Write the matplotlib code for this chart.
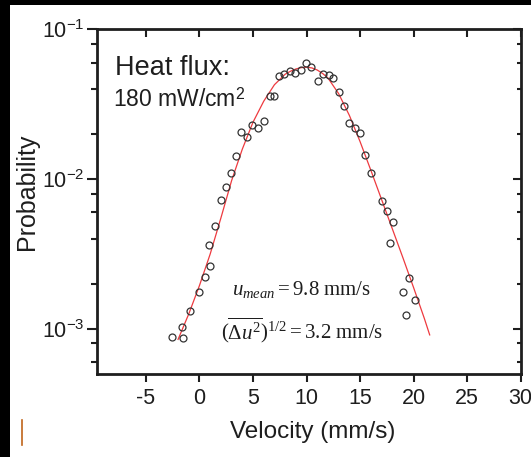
import matplotlib
matplotlib.use("Agg")
import matplotlib.pyplot as plt
from matplotlib.ticker import FixedLocator, FuncFormatter, LogLocator, NullFormatter
from matplotlib.patches import Rectangle
from matplotlib.lines import Line2D

plt.rcParams['font.family'] = ['Liberation Sans', 'DejaVu Sans']
plt.rcParams['axes.unicode_minus'] = False
plt.rcParams['mathtext.fontset'] = 'custom'
plt.rcParams['mathtext.rm'] = 'Liberation Serif'
plt.rcParams['mathtext.it'] = 'Liberation Serif:italic'
plt.rcParams['mathtext.sf'] = 'Liberation Sans'

# measured velocity distribution (open circles)
velocity = [-2.54, -1.57, -1.62, -0.87, -0.06, 0.47, 1.0, 0.93, 1.47, 2.03, 2.5,
            2.93, 3.40, 3.90, 4.46, 4.95, 5.46, 6.0, 6.61, 6.98, 7.38, 7.94,
            8.46, 8.94, 9.44, 9.94, 10.44, 11.03, 11.58, 12.05, 12.45, 13.03,
            13.46, 13.93, 14.49, 14.98, 15.49, 16.02, 17.03, 17.51, 18.04,
            17.76, 19.53, 19.01, 20.09, 19.32]
probability = [8.81e-4, 8.69e-4, 1.035e-3, 1.324e-3, 1.754e-3, 2.208e-3, 2.642e-3,
               3.606e-3, 4.887e-3, 7.28e-3, 8.89e-3, 1.096e-2, 1.416e-2, 2.065e-2,
               1.923e-2, 2.291e-2, 2.198e-2, 2.460e-2, 3.589e-2, 3.565e-2, 4.842e-2,
               5.035e-2, 5.236e-2, 5.093e-2, 5.358e-2, 5.929e-2, 5.585e-2, 4.519e-2,
               5.012e-2, 4.932e-2, 4.732e-2, 3.811e-2, 3.083e-2, 2.382e-2, 2.188e-2,
               2.046e-2, 1.452e-2, 1.096e-2, 7.11e-3, 6.08e-3, 5.21e-3, 3.74e-3,
               2.19e-3, 1.754e-3, 1.567e-3, 1.245e-3]

# fitted curve (red)
fit_v = [-2, -1, 0, 1, 2, 3, 4, 5, 6, 7, 8, 8.5, 9, 9.5, 10, 10.5, 11, 11.5, 12,
         13, 14, 15, 16, 17, 18, 19, 20, 21, 21.5]
fit_p = [8.51e-4, 1.259e-3, 1.950e-3, 3.162e-3, 5.50e-3, 9.77e-3, 1.585e-2,
         2.399e-2, 3.311e-2, 4.266e-2, 5.012e-2, 5.248e-2, 5.433e-2, 5.546e-2,
         5.585e-2, 5.521e-2, 5.346e-2, 5.070e-2, 4.732e-2, 3.715e-2, 2.661e-2,
         1.778e-2, 1.148e-2, 7.33e-3, 4.68e-3, 2.985e-3, 1.884e-3, 1.175e-3, 9.12e-4]

xticks = [-5, 0, 5, 10, 15, 20, 25, 30]

ink = '#1e1e1e'
fig = plt.figure(figsize=(5.31, 4.57), dpi=100)
ax = fig.add_axes([0.1821, 0.1816, 0.7985, 0.7543])

ax.plot(fit_v, fit_p, color='#ee3a3f', lw=0.9, zorder=2)
ax.plot(velocity, probability, 'o', ms=5, mfc='none', mec='#333333', mew=0.9, zorder=3)

ax.set_yscale('log')
ax.set_xlim(-9.6, 30)
ax.set_ylim(5e-4, 1e-1)
ax.xaxis.set_major_locator(FixedLocator(xticks))
ax.yaxis.set_major_locator(LogLocator(base=10))
ax.yaxis.set_minor_locator(LogLocator(base=10, subs=[2, 4, 6, 8]))
ax.yaxis.set_major_formatter(FuncFormatter(lambda v, p: r'$\mathsf{10^{%d}}$' % round(__import__('math').log10(v))))
ax.yaxis.set_minor_formatter(NullFormatter())

for s in ax.spines.values():
    s.set_linewidth(2.0)
    s.set_color(ink)

ax.tick_params(axis='x', which='major', direction='out', length=6, width=1.5,
               labelsize=15.5, pad=4, colors=ink, top=False)
ax.tick_params(axis='y', which='major', direction='out', length=7, width=1.5,
               labelsize=15.5, pad=2, colors=ink, right=False)
ax.tick_params(axis='y', which='minor', direction='out', length=4.5, width=1.5,
               colors=ink, right=False)

# right side: inward ticks
ax_r = ax.twinx()
ax_r.set_yscale('log')
ax_r.set_ylim(ax.get_ylim())
ax_r.yaxis.set_major_locator(LogLocator(base=10))
ax_r.yaxis.set_minor_locator(LogLocator(base=10, subs=[2, 4, 6, 8]))
ax_r.tick_params(axis='y', which='major', direction='in', length=6, width=1.5,
                 colors=ink, labelright=False)
ax_r.tick_params(axis='y', which='minor', direction='in', length=3.2, width=1.5,
                 colors=ink, labelright=False)
for s in ax_r.spines.values():
    s.set_visible(False)

# top: inward ticks
ax_t = ax.secondary_xaxis('top')
ax_t.xaxis.set_major_locator(FixedLocator(xticks))
ax_t.tick_params(axis='x', direction='in', length=6, width=1.5, colors=ink, labeltop=False)
ax_t.spines['top'].set_visible(False)

ax.set_xlabel('Velocity (mm/s)', fontsize=17.5, color=ink)
ax.set_ylabel('Probability', fontsize=18, color=ink)
ax.xaxis.set_label_coords(0.51, -0.135)
ax.yaxis.set_label_coords(-0.135, 0.528)

ax.text(0.043, 0.867, 'Heat flux:', transform=ax.transAxes, fontsize=19.5, color=ink)
ax.text(0.038, 0.775, r'180 mW/cm$^\mathsf{2}$', transform=ax.transAxes, fontsize=16.5, color=ink)
ax.text(0.484, 0.229, r'$u_{mean} = 9.8\ \mathrm{mm/s}$', transform=ax.transAxes,
        fontsize=15, ha='center', color=ink)
ax.text(0.484, 0.104, r'$(\overline{\Delta u^2})^{1/2} = 3.2\ \mathrm{mm/s}$', transform=ax.transAxes,
        fontsize=15, ha='center', color=ink)

# black frame bands of the scanned picture and the small orange mark
fig.add_artist(Rectangle((0, 1 - 5 / 457), 1, 5 / 457, transform=fig.transFigure,
                         facecolor='black', edgecolor='none'))
fig.add_artist(Rectangle((0, 0), 10 / 531, 1, transform=fig.transFigure,
                         facecolor='black', edgecolor='none'))
fig.add_artist(Line2D([22 / 531, 22 / 531], [1 - 420 / 457, 1 - 445 / 457],
                      transform=fig.transFigure, color='#c0651a', lw=1.2))

fig.savefig('out.png', dpi=100)
